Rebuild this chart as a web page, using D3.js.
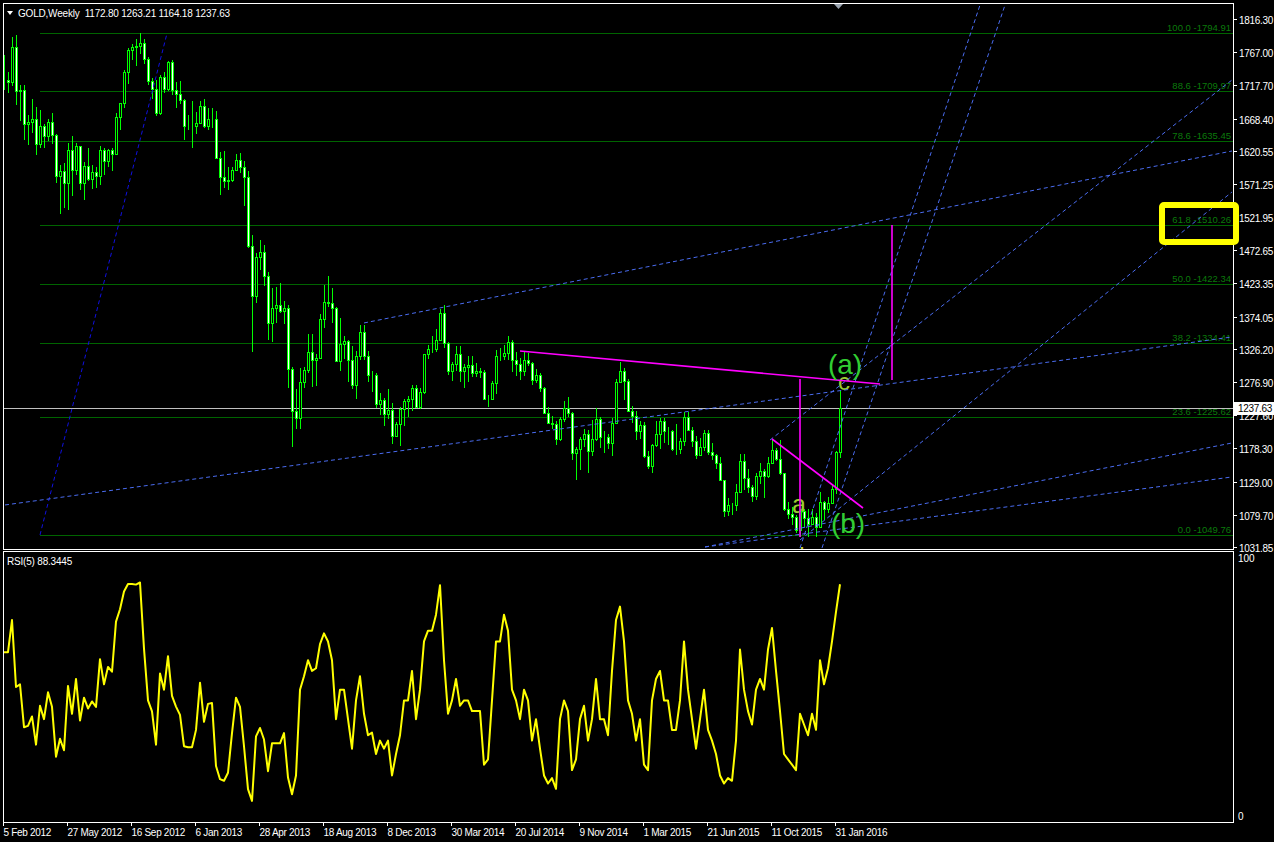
<!DOCTYPE html>
<html><head><meta charset="utf-8">
<script src="https://cdn.jsdelivr.net/npm/d3@7"></script>
<style>html,body{margin:0;padding:0;background:#000;overflow:hidden}</style>
</head><body><svg id="c" width="1274" height="842"></svg>
<script>
// ---------- DATA ----------
const startDate = "2012-02-05";
const opens = [
1725,1725,1723,1775,1710,1711,1660,1663,1668,1631,
1658,1642,1663,1644,1583,1591,1573,1622,1592,1628,
1572,1598,1578,1589,1583,1621,1605,1621,1616,1671,
1691,1738,1770,1774,1776,1780,1757,1724,1712,1676,
1730,1713,1752,1711,1705,1696,1658,1657,1657,1662,
1687,1658,1667,1667,1610,1581,1576,1577,1592,1607,
1596,1581,1479,1405,1462,1470,1434,1364,1387,1392,
1383,1387,1296,1234,1223,1277,1295,1322,1310,1312,
1371,1396,1395,1387,1308,1333,1338,1309,1273,1316,
1352,1315,1287,1288,1244,1250,1230,1235,1197,1214,
1237,1249,1251,1268,1240,1262,1318,1326,1326,1339,
1379,1335,1293,1303,1318,1293,1300,1302,1290,1293,
1292,1251,1252,1275,1316,1316,1320,1337,1310,1303,
1294,1309,1305,1280,1287,1268,1231,1216,1214,1192,
1222,1238,1231,1171,1177,1193,1199,1175,1192,1222,
1195,1195,1186,1216,1277,1293,1278,1234,1227,1204,
1213,1167,1152,1183,1199,1219,1204,1204,1178,1178,
1189,1225,1205,1189,1168,1181,1201,1173,1168,1157,
1132,1085,1094,1094,1113,1160,1134,1121,1108,1138,
1145,1137,1156,1176,1163,1142,1088,1081,1076,1057,
1086,1075,1066,1076,1061,1098,1089,1097,1118,1172.80];
const highs = [
1763,1738,1790,1792,1718,1718,1673,1697,1685,1681,
1660,1667,1677,1645,1600,1602,1632,1642,1632,1628,
1604,1624,1600,1596,1628,1625,1623,1624,1676,1692,
1741,1773,1779,1787,1795,1786,1760,1728,1726,1733,
1737,1754,1755,1723,1724,1698,1673,1694,1678,1694,
1697,1684,1684,1679,1619,1620,1597,1597,1616,1617,
1605,1590,1495,1469,1488,1480,1440,1417,1418,1424,
1397,1392,1300,1267,1298,1299,1348,1348,1318,1378,
1421,1434,1417,1388,1372,1345,1339,1331,1323,1361,
1361,1323,1294,1290,1260,1253,1267,1246,1217,1240,
1251,1256,1272,1273,1268,1319,1332,1345,1355,1385,
1392,1336,1307,1331,1331,1304,1315,1316,1305,1298,
1295,1258,1278,1325,1327,1332,1346,1339,1321,1313,
1322,1320,1306,1296,1290,1270,1240,1226,1219,1225,
1249,1255,1233,1180,1196,1207,1206,1220,1238,1225,
1204,1200,1224,1282,1307,1298,1281,1241,1234,1219,
1218,1174,1185,1219,1224,1224,1210,1206,1215,1194,
1232,1232,1210,1197,1194,1205,1205,1186,1170,1166,
1132,1105,1097,1126,1170,1170,1147,1124,1142,1157,
1147,1166,1191,1179,1191,1142,1098,1092,1080,1088,
1088,1088,1088,1082,1113,1100,1106,1125,1174,1263.21];
const lows = [
1711,1707,1717,1688,1665,1636,1629,1647,1614,1625,
1625,1635,1630,1572,1527,1535,1532,1553,1585,1562,
1548,1575,1564,1565,1570,1585,1596,1590,1614,1652,
1684,1720,1755,1747,1765,1750,1718,1697,1672,1674,
1706,1710,1703,1684,1690,1636,1651,1625,1645,1660,
1655,1651,1655,1608,1555,1565,1562,1574,1590,1588,
1539,1476,1321,1395,1444,1420,1339,1337,1365,1380,
1363,1268,1180,1207,1207,1268,1290,1270,1271,1311,
1357,1389,1364,1306,1294,1311,1277,1266,1251,1310,
1310,1277,1262,1239,1228,1211,1222,1185,1195,1182,
1212,1225,1234,1238,1237,1259,1311,1320,1322,1338,
1327,1288,1278,1294,1277,1268,1277,1284,1284,1283,
1251,1240,1251,1259,1308,1310,1310,1292,1286,1280,
1286,1301,1273,1275,1262,1229,1214,1207,1183,1190,
1218,1225,1161,1131,1146,1181,1142,1167,1189,1179,
1171,1178,1167,1214,1276,1250,1232,1216,1191,1192,
1164,1147,1142,1181,1178,1186,1183,1175,1169,1170,
1182,1204,1180,1162,1167,1174,1168,1161,1147,1130,
1077,1078,1080,1085,1112,1117,1112,1098,1102,1125,
1105,1135,1156,1160,1139,1085,1074,1065,1052,1046,
1062,1046,1065,1047,1061,1072,1083,1096,1110,1164.18];
const closes = [
1725,1723,1775,1710,1711,1660,1663,1668,1631,1658,
1642,1663,1644,1583,1591,1573,1622,1592,1628,1572,
1598,1578,1589,1583,1621,1605,1621,1616,1671,1691,
1738,1770,1774,1776,1780,1757,1724,1712,1676,1730,
1713,1752,1711,1705,1696,1658,1657,1657,1662,1687,
1658,1667,1667,1610,1581,1576,1577,1592,1607,1596,
1581,1479,1405,1462,1470,1434,1364,1387,1392,1383,
1387,1296,1234,1223,1277,1295,1322,1310,1312,1371,
1396,1395,1387,1308,1333,1338,1309,1273,1316,1352,
1315,1287,1288,1244,1250,1230,1235,1197,1214,1237,
1249,1251,1268,1240,1262,1318,1326,1326,1339,1379,
1335,1293,1303,1318,1293,1300,1302,1290,1293,1292,
1251,1252,1275,1316,1316,1320,1337,1310,1303,1294,
1309,1305,1280,1287,1268,1231,1216,1214,1192,1222,
1238,1231,1171,1177,1193,1199,1175,1192,1222,1195,
1195,1186,1216,1277,1293,1278,1234,1227,1204,1213,
1167,1152,1183,1199,1219,1204,1204,1178,1178,1189,
1225,1205,1189,1168,1181,1201,1173,1168,1157,1132,
1085,1094,1094,1113,1160,1134,1121,1108,1138,1145,
1137,1156,1176,1163,1142,1088,1081,1076,1057,1086,
1075,1066,1076,1061,1098,1089,1097,1118,1173,1237.63];
const rsi = [
63,63,75,50,51,35,35.5,39,28.5,43,
38,48,42.6,24,30.7,26.4,50.4,40,53,37.5,
46,42,44.6,42.6,60.4,51,57.5,55.7,74.4,79,
85.6,88.4,88.4,88.2,89,64.3,45,40.9,28.5,55,
49,61.5,46.7,42.7,39.6,27.9,27.5,27.5,34,51.6,
37,43.7,44,20.5,15.6,15,18,32.8,46,42.6,
27.9,11.9,7.5,31.6,34.7,30.4,18.6,29,29,29,
32.8,16.2,10,17,49,54,60,56,57,66,
70,67,60,38,49,49,38,27,45,54,
40,32,33,25,30,27,30,17,25,32,
45,45,56,38,49,67,71,71,77,88,
60,40,45,53,43,45,45,41,41,41,
21,23,45,67,67,77,71,49,45,38,
49,45,30,38,27,17,14,16,12,38,
45,41,19,23,38,43,30,38,53,38,
38,32,56,75,80,67,45,40,30,38,
21,19,45,53,56,45,45,34,34,45,
67,49,38,27,38,49,34,30,25,17,
14,16,15,30,64,49,41,36,49,53,
49,64,72,56,41,25,23,21,19,40,
36,32,40,34,60,51,57,67,78,88.34];
const dateTickIdx = [0,16,32,48,64,80,96,112,128,144,160,176,192,208];
const dateTickLabels = ["5 Feb 2012","27 May 2012","16 Sep 2012","6 Jan 2013","28 Apr 2013","18 Aug 2013","8 Dec 2013","30 Mar 2014","20 Jul 2014","9 Nov 2014","1 Mar 2015","21 Jun 2015","11 Oct 2015","31 Jan 2016"];
const priceTicks = ["1816.30","1767.00","1717.70","1668.40","1620.55","1571.25","1521.95","1472.65","1423.35","1374.05","1326.20","1276.90","1227.60","1178.30","1129.00","1079.70","1031.85"];
const fibLevels = [0.0, 23.6, 38.2, 50.0, 61.8, 78.6, 88.6, 100.0];
const fibPrices = [1049.76, 1225.62, 1334.41, 1422.34, 1510.26, 1635.45, 1709.97, 1794.91];
const fibStartIdx = 9;
const fibDiagonal = [[9, 1049.76], [40.75, 1794.91]];
// trend lines [i1, p1, i2, p2]
const blueLines = [
  [90, 1364.7, 307, 1620.2],
  [0.25, 1094.3, 307, 1343.9],
  [175.25, 1031.9, 307, 1186.4],
  [175.25, 1031.9, 307, 1135.9],
  [199, 1030.4, 244, 1837.1],
  [204.5, 1030.4, 250.25, 1837.1],
  [199, 1042.3, 307, 1559.3],
  [191.5, 1190.8, 307, 1725.7]
];
const magentaLines = [
  [129, 1323.1, 219, 1274.0],
  [199, 1281.5, 199, 1046.7],
  [192, 1192.3, 214.75, 1089.8],
  [222, 1510.3, 222, 1280.0]
];
const waveLabels = [
  {t:"(a)", i:210.25, p:1289, size:28, color:"#32cd32"},
  {t:"(b)", i:211, p:1052, size:28, color:"#32cd32"},
  {t:"a", i:198.75, p:1082.5, size:25, color:"#9acd32"},
  {t:"c", i:210, p:1265, size:24, color:"#9acd32"},
  {t:"b", i:200.5, p:1007, size:24, color:"#c8c832"}
];
const lastPrice = 1237.63;
const headerText = "GOLD,Weekly  1172.80 1263.21 1164.18 1237.63";
const rsiText = "RSI(5) 88.3445";

// ---------- LAYOUT ----------
const svg = d3.select('#c');
const FONT = '"Liberation Sans", Arial, sans-serif';
const PL = 4, PR = 1233, PT = 4, PB = 549, RT = 552, RB = 822;
const x = d3.scaleLinear().domain([0, 307]).range([4, 1232]);
const y = d3.scaleLinear().domain([1031.85, 1816.30]).range([547, 19]);
const yr = d3.scaleLinear().domain([0, 100]).range([821, 553]);
const px = i => Math.round(x(i)) + 0.5;

svg.append('rect').attr('width', 1274).attr('height', 842).attr('fill', '#000');
const defs = svg.append('defs');
defs.append('clipPath').attr('id', 'cm').append('rect').attr('x', PL).attr('y', PT).attr('width', PR - PL).attr('height', PB - PT);
defs.append('clipPath').attr('id', 'cr').append('rect').attr('x', PL).attr('y', RT).attr('width', PR - PL).attr('height', RB - RT);

const main = svg.append('g').attr('clip-path', 'url(#cm)');

// Fibonacci levels
const fibG = main.append('g');
fibG.selectAll('line').data(fibPrices).join('line')
  .attr('x1', x(fibStartIdx)).attr('x2', PR)
  .attr('y1', d => Math.round(y(d)) + 0.5).attr('y2', d => Math.round(y(d)) + 0.5)
  .attr('stroke', '#006400').attr('stroke-width', 1).attr('shape-rendering', 'crispEdges');
fibG.selectAll('text').data(fibPrices).join('text')
  .attr('x', 1231).attr('y', d => Math.round(y(d)) - 2)
  .attr('text-anchor', 'end').attr('font-family', FONT).attr('font-size', 9.5)
  .attr('fill', '#0b7a0b')
  .text((d, k) => fibLevels[k].toFixed(1) + ' -' + d.toFixed(2));

// current price line
main.append('line').attr('x1', PL).attr('x2', PR)
  .attr('y1', Math.round(y(lastPrice)) + 0.5).attr('y2', Math.round(y(lastPrice)) + 0.5)
  .attr('stroke', '#c0c0c0').attr('stroke-width', 1).attr('shape-rendering', 'crispEdges');

// wave labels (behind candles)
const lab = main.append('g');
waveLabels.filter(d => d.t.length === 1).forEach(d => {
  lab.append('text').attr('x', x(d.i)).attr('y', y(d.p)).attr('text-anchor', 'middle')
    .attr('font-family', FONT).attr('font-size', d.size).attr('fill', d.color).text(d.t);
});

// candles
const cg = main.append('g').attr('shape-rendering', 'crispEdges');
closes.forEach((c, i) => {
  const o = opens[i], h = highs[i], l = lows[i];
  const cx = px(i);
  cg.append('line').attr('x1', cx).attr('x2', cx).attr('y1', y(h)).attr('y2', y(l))
    .attr('stroke', '#00ff00').attr('stroke-width', 1);
  const top = Math.round(y(Math.max(o, c))), bot = Math.round(y(Math.min(o, c)));
  cg.append('rect').attr('x', cx - 1).attr('y', top + 0.5).attr('width', 2).attr('height', Math.max(bot - top, 0))
    .attr('fill', c >= o ? '#000' : '#fff').attr('stroke', '#00ff00').attr('stroke-width', 1);
});

// fib diagonal
main.append('line')
  .attr('x1', x(fibDiagonal[0][0])).attr('y1', y(fibDiagonal[0][1]))
  .attr('x2', x(fibDiagonal[1][0])).attr('y2', y(fibDiagonal[1][1]))
  .attr('stroke', '#1010e0').attr('stroke-width', 1).attr('stroke-dasharray', '4,3');

// blue trend lines
main.append('g').selectAll('line').data(blueLines).join('line')
  .attr('x1', d => x(d[0])).attr('y1', d => y(d[1])).attr('x2', d => x(d[2])).attr('y2', d => y(d[3]))
  .attr('stroke', '#4a6cf0').attr('stroke-width', 1).attr('stroke-dasharray', '4,3');

// magenta lines
main.append('g').selectAll('line').data(magentaLines).join('line')
  .attr('x1', d => x(d[0])).attr('y1', d => y(d[1])).attr('x2', d => x(d[2])).attr('y2', d => y(d[3]))
  .attr('stroke', '#ff00ff').attr('stroke-width', 1.6);

// big wave labels
waveLabels.filter(d => d.t.length > 1).forEach(d => {
  main.append('text').attr('x', x(d.i)).attr('y', y(d.p)).attr('text-anchor', 'middle')
    .attr('font-family', FONT).attr('font-size', d.size).attr('fill', d.color).text(d.t);
});

// header
svg.append('path').attr('d', 'M7,11 L13,11 L10,15 Z').attr('fill', '#fff');
svg.append('text').attr('x', 18).attr('y', 17).attr('font-family', FONT).attr('font-size', 10)
  .attr('letter-spacing', -0.2).attr('fill', '#fff').attr('xml:space', 'preserve').text(headerText);

// shift marker
svg.append('path').attr('d', 'M834,4 L843,4 L838.5,9 Z').attr('fill', '#9aa4b0');

// RSI
const rg = svg.append('g').attr('clip-path', 'url(#cr)');
rg.append('path').datum(rsi)
  .attr('d', d3.line().x((d, i) => x(i)).y(d => yr(d)))
  .attr('fill', 'none').attr('stroke', '#ffff00').attr('stroke-width', 2).attr('stroke-linejoin', 'round');
svg.append('text').attr('x', 7).attr('y', 565).attr('font-family', FONT).attr('font-size', 10)
  .attr('letter-spacing', -0.2).attr('fill', '#fff').text(rsiText);

// frames
const fr = svg.append('g').attr('fill', 'none').attr('stroke', '#fff').attr('stroke-width', 1).attr('shape-rendering', 'crispEdges');
fr.append('rect').attr('x', PL - 0.5).attr('y', PT - 0.5).attr('width', PR - PL + 1).attr('height', PB - PT + 1);
fr.append('rect').attr('x', PL - 0.5).attr('y', RT - 0.5).attr('width', PR - PL + 1).attr('height', RB - RT + 1);

// price axis
const ax = svg.append('g');
priceTicks.forEach(t => {
  const yy = Math.round(y(+t)) + 0.5;
  ax.append('line').attr('x1', PR).attr('x2', PR + 4).attr('y1', yy).attr('y2', yy).attr('stroke', '#fff').attr('shape-rendering', 'crispEdges');
  ax.append('text').attr('x', 1239).attr('y', yy + 4).attr('font-family', FONT).attr('font-size', 10)
    .attr('letter-spacing', -0.3).attr('fill', '#fff').text(t);
});
// last price box
const ly = Math.round(y(lastPrice));
ax.append('rect').attr('x', 1234).attr('y', ly - 6).attr('width', 40).attr('height', 13).attr('fill', '#fff');
ax.append('text').attr('x', 1238).attr('y', ly + 4).attr('font-family', FONT).attr('font-size', 10)
  .attr('letter-spacing', -0.3).attr('fill', '#000').text(lastPrice.toFixed(2));

// RSI axis
[100, 0].forEach(v => {
  const yy = v === 100 ? RT + 6 : RB - 6;
  ax.append('text').attr('x', 1238).attr('y', yy + 4).attr('font-family', FONT).attr('font-size', 10)
    .attr('fill', '#fff').text(String(v));
});

// time axis
dateTickIdx.forEach((i, k) => {
  const xx = px(i) - 1;
  ax.append('line').attr('x1', xx).attr('x2', xx).attr('y1', RB).attr('y2', RB + 4).attr('stroke', '#fff').attr('shape-rendering', 'crispEdges');
  ax.append('text').attr('x', xx).attr('y', 836).attr('font-family', FONT).attr('font-size', 10)
    .attr('letter-spacing', -0.3).attr('fill', '#fff').text(dateTickLabels[k]);
});

// highlight box
svg.append('rect').attr('x', 1162).attr('y', 205).attr('width', 74).attr('height', 37)
  .attr('fill', 'none').attr('stroke', '#ffff00').attr('stroke-width', 6).attr('rx', 2);
</script>
</body></html>
